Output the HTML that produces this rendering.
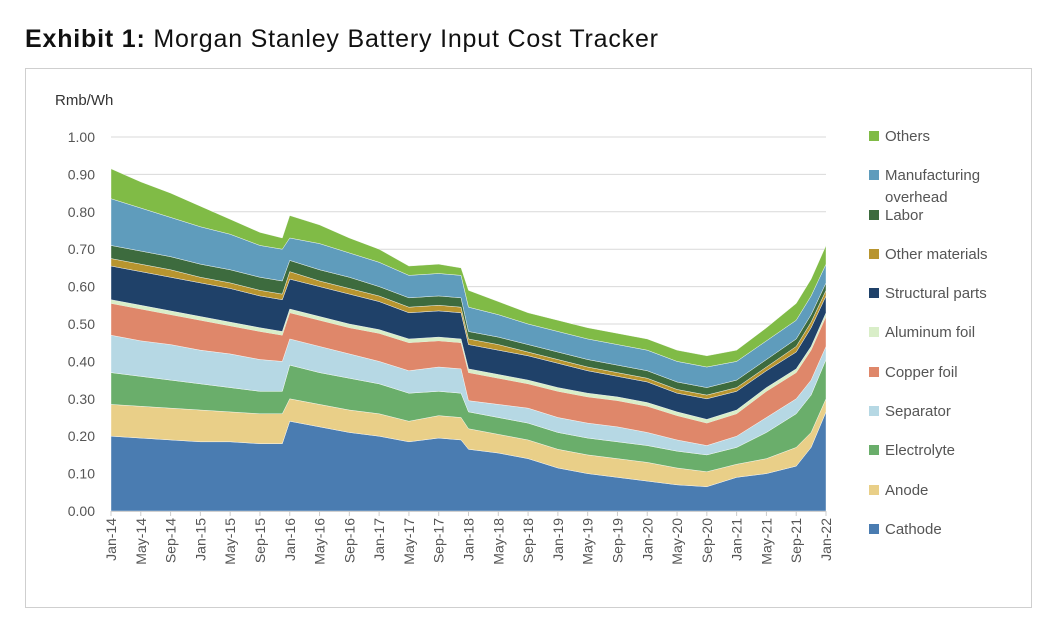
<!DOCTYPE html>
<html><head><meta charset="utf-8"><style>
body{margin:0;background:#fff;width:1045px;height:622px;overflow:hidden;font-family:"Liberation Sans",sans-serif}
</style></head><body>
<svg width="1045" height="622" xmlns="http://www.w3.org/2000/svg">
<text x="25" y="47" font-size="25" fill="#111" textLength="633" lengthAdjust="spacing"><tspan font-weight="bold">Exhibit 1:</tspan>  Morgan Stanley Battery Input Cost Tracker</text>
<rect x="25.5" y="68.5" width="1006" height="539" fill="none" stroke="#cfcfcf"/>
<text x="55" y="105" font-size="15" fill="#333">Rmb/Wh</text>
<g id="grid"></g><g id="areas"></g><g id="axes"></g><g id="legend"></g>
</svg>
<script>
const months=[0,4,8,12,16,20,23,24,28,32,36,40,44,47,48,52,56,60,64,68,72,76,80,84,88,92,94,96];
const tickLabels=["Jan-14","May-14","Sep-14","Jan-15","May-15","Sep-15","Jan-16","May-16","Sep-16","Jan-17","May-17","Sep-17","Jan-18","May-18","Sep-18","Jan-19","May-19","Sep-19","Jan-20","May-20","Sep-20","Jan-21","May-21","Sep-21","Jan-22"];
const yTicks=[0,0.1,0.2,0.3,0.4,0.5,0.6,0.7,0.8,0.9,1.0];
const seriesNames=["Cathode","Anode","Electrolyte","Separator","Copper foil","Aluminum foil","Structural parts","Other materials","Labor","Manufacturing overhead","Others"];
const seriesColors=["#4a7cb1","#e9cf88","#6aae6b","#b6d8e4","#df876a","#d9eec8","#1f4169","#b8952f","#3d6b3e","#5f9cbc","#80bb46"];
const cathode=[.20,.195,.19,.185,.185,.18,.18,.24,.225,.21,.20,.185,.195,.19,.165,.155,.14,.115,.10,.09,.08,.07,.065,.09,.10,.12,.17,.265];
const anode=[.085,.085,.085,.085,.08,.08,.08,.06,.06,.06,.06,.055,.06,.06,.055,.05,.05,.05,.05,.05,.05,.045,.04,.035,.04,.05,.04,.035];
const electrolyte=[.085,.08,.075,.07,.065,.06,.06,.09,.085,.085,.08,.075,.065,.065,.045,.045,.045,.045,.045,.045,.045,.045,.045,.045,.07,.09,.10,.105];
const separator=[.10,.095,.095,.09,.09,.085,.08,.07,.07,.065,.06,.06,.065,.065,.03,.035,.04,.04,.04,.04,.035,.03,.025,.03,.04,.04,.04,.035];
const copperFoil=[.085,.085,.08,.08,.075,.075,.07,.07,.07,.07,.075,.075,.07,.07,.075,.07,.065,.07,.07,.07,.07,.065,.06,.06,.07,.07,.08,.08];
const aluminumFoil=[.01,.01,.01,.01,.01,.01,.01,.01,.01,.01,.01,.01,.01,.01,.01,.01,.01,.01,.01,.01,.01,.01,.01,.01,.01,.01,.01,.01];
const structural=[.09,.09,.09,.09,.09,.085,.085,.08,.08,.08,.075,.07,.07,.07,.065,.065,.065,.065,.06,.055,.055,.05,.055,.05,.045,.045,.05,.045];
const otherMaterials=[.02,.02,.02,.015,.015,.015,.015,.02,.015,.015,.015,.015,.015,.015,.015,.015,.01,.01,.01,.01,.01,.01,.01,.01,.01,.015,.015,.015];
const labor=[.035,.035,.035,.035,.035,.035,.035,.03,.03,.03,.025,.025,.025,.025,.02,.02,.02,.02,.02,.02,.02,.02,.02,.02,.02,.02,.02,.02];
const mfgOverhead=[.125,.115,.105,.10,.095,.085,.085,.06,.07,.065,.065,.06,.06,.06,.065,.06,.055,.055,.055,.055,.055,.055,.055,.05,.05,.05,.05,.05];
const others=[.08,.07,.065,.055,.04,.035,.03,.06,.05,.04,.035,.025,.025,.02,.045,.035,.03,.03,.03,.03,.03,.03,.03,.03,.035,.045,.045,.05];
const series=[cathode,anode,electrolyte,separator,copperFoil,aluminumFoil,structural,otherMaterials,labor,mfgOverhead,others];
const X0=111,X1=826,Y0=511,Y1=137;
const xs=m=>X0+(X1-X0)*m/96;
const ys=v=>Y0-(Y0-Y1)*v;
const NS="http://www.w3.org/2000/svg";
function mk(t,a,p){const e=document.createElementNS(NS,t);for(const k in a)e.setAttribute(k,a[k]);p.appendChild(e);return e;}
const grid=document.getElementById('grid'),areas=document.getElementById('areas'),axes=document.getElementById('axes'),legend=document.getElementById('legend');
yTicks.forEach(v=>{
 if(v>0){const l=mk('line',{x1:X0,x2:X1,y1:ys(v),y2:ys(v),stroke:'#d9d9d9','stroke-width':1},grid);
 
 }
 const t=mk('text',{x:95,y:ys(v)+5,'text-anchor':'end','font-size':14,fill:'#555'},axes);t.textContent=v.toFixed(2);
 
 
});
let base=months.map(()=>0);
series.forEach((s,i)=>{
 const top=base.map((b,j)=>b+s[j]);
 let d='M'+months.map((m,j)=>xs(m)+','+ys(top[j])).join(' L');
 d+=' L'+months.map((m,j)=>[m,j]).reverse().map(([m,j])=>xs(m)+','+ys(base[j])).join(' L')+' Z';
 const p=mk('path',{d:d,fill:seriesColors[i],stroke:i==5?'none':'#ffffff','stroke-width':0.4},areas);
 
 
 base=top;
});
const ax=mk('line',{x1:X0,x2:X1,y1:Y0+0.5,y2:Y0+0.5,stroke:'#d0d0d0'},axes);


tickLabels.forEach((lab,i)=>{
 const x=xs(i*4);
 const tk=mk('line',{x1:x,x2:x,y1:Y0,y2:Y0+5,stroke:'#ccc'},axes);
 
 
 const t=mk('text',{x:0,y:0,'text-anchor':'end','font-size':14,fill:'#555',transform:'translate('+(x+5)+',518) rotate(-90)'},axes);
 t.textContent=lab;
 
 
});
const legY=[136,175,215,254,293,332,372,411,450,490,529];
const order=[10,9,8,7,6,5,4,3,2,1,0];
order.forEach((si,k)=>{
 const g=mk('g',{},legend);
 
 
 mk('rect',{x:869,y:legY[k]-5,width:10,height:10,fill:seriesColors[si]},g);
 if(si==9){
  const t=mk('text',{x:885,y:legY[k]+5,'font-size':15,fill:'#555'},g);t.textContent='Manufacturing';
  const t2=mk('text',{x:885,y:legY[k]+27,'font-size':15,fill:'#555'},g);t2.textContent='overhead';
 } else {
  const t=mk('text',{x:885,y:legY[k]+5,'font-size':15,fill:'#555'},g);t.textContent=seriesNames[si];
 }
});
</script>
</body></html>
